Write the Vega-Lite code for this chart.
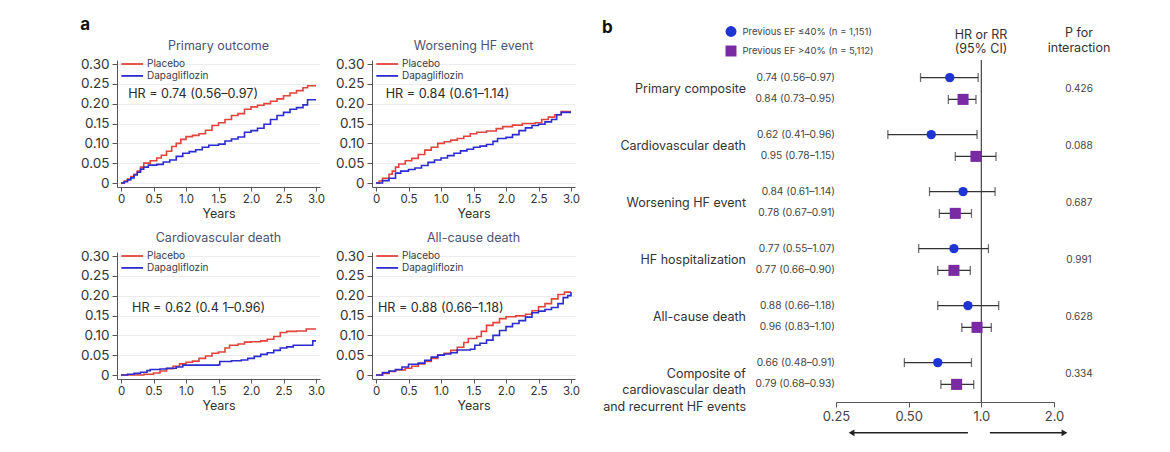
{
  "$schema": "https://vega.github.io/schema/vega-lite/v6.json",
  "background": "white",
  "padding": {"left": 80, "top": 15, "right": 5, "bottom": 0},
  "config": {
    "font": "Inter",
    "view": {"stroke": null},
    "axis": {"domainColor": "#555", "tickColor": "#555", "labelColor": "#333", "titleColor": "#333", "titleFontWeight": "normal", "labelOverlap": false},
    "title": {"fontWeight": "normal", "color": "#4b5374", "fontSize": 12.5}
  },
  "datasets": {
    "km": [
      {"p": "PO", "arm": "Placebo", "t": 0, "v": 0}, {"p": "PO", "arm": "Placebo", "t": 0.05, "v": 0.005}, {"p": "PO", "arm": "Placebo", "t": 0.1, "v": 0.01}, {"p": "PO", "arm": "Placebo", "t": 0.15, "v": 0.016}, {"p": "PO", "arm": "Placebo", "t": 0.2, "v": 0.022}, {"p": "PO", "arm": "Placebo", "t": 0.25, "v": 0.03}, {"p": "PO", "arm": "Placebo", "t": 0.3, "v": 0.04}, {"p": "PO", "arm": "Placebo", "t": 0.35, "v": 0.05}, {"p": "PO", "arm": "Placebo", "t": 0.45, "v": 0.056}, {"p": "PO", "arm": "Placebo", "t": 0.55, "v": 0.063}, {"p": "PO", "arm": "Placebo", "t": 0.62, "v": 0.07}, {"p": "PO", "arm": "Placebo", "t": 0.7, "v": 0.08}, {"p": "PO", "arm": "Placebo", "t": 0.78, "v": 0.092}, {"p": "PO", "arm": "Placebo", "t": 0.85, "v": 0.1}, {"p": "PO", "arm": "Placebo", "t": 0.92, "v": 0.11}, {"p": "PO", "arm": "Placebo", "t": 1.0, "v": 0.117}, {"p": "PO", "arm": "Placebo", "t": 1.1, "v": 0.12}, {"p": "PO", "arm": "Placebo", "t": 1.2, "v": 0.124}, {"p": "PO", "arm": "Placebo", "t": 1.3, "v": 0.133}, {"p": "PO", "arm": "Placebo", "t": 1.4, "v": 0.145}, {"p": "PO", "arm": "Placebo", "t": 1.5, "v": 0.152}, {"p": "PO", "arm": "Placebo", "t": 1.6, "v": 0.16}, {"p": "PO", "arm": "Placebo", "t": 1.7, "v": 0.17}, {"p": "PO", "arm": "Placebo", "t": 1.8, "v": 0.175}, {"p": "PO", "arm": "Placebo", "t": 1.9, "v": 0.186}, {"p": "PO", "arm": "Placebo", "t": 2.0, "v": 0.192}, {"p": "PO", "arm": "Placebo", "t": 2.1, "v": 0.196}, {"p": "PO", "arm": "Placebo", "t": 2.2, "v": 0.2}, {"p": "PO", "arm": "Placebo", "t": 2.3, "v": 0.206}, {"p": "PO", "arm": "Placebo", "t": 2.4, "v": 0.212}, {"p": "PO", "arm": "Placebo", "t": 2.5, "v": 0.22}, {"p": "PO", "arm": "Placebo", "t": 2.6, "v": 0.227}, {"p": "PO", "arm": "Placebo", "t": 2.7, "v": 0.233}, {"p": "PO", "arm": "Placebo", "t": 2.8, "v": 0.24}, {"p": "PO", "arm": "Placebo", "t": 2.87, "v": 0.245}, {"p": "PO", "arm": "Placebo", "t": 3.0, "v": 0.245},
      {"p": "PO", "arm": "Dapagliflozin", "t": 0, "v": 0}, {"p": "PO", "arm": "Dapagliflozin", "t": 0.05, "v": 0.003}, {"p": "PO", "arm": "Dapagliflozin", "t": 0.1, "v": 0.008}, {"p": "PO", "arm": "Dapagliflozin", "t": 0.15, "v": 0.013}, {"p": "PO", "arm": "Dapagliflozin", "t": 0.2, "v": 0.02}, {"p": "PO", "arm": "Dapagliflozin", "t": 0.25, "v": 0.027}, {"p": "PO", "arm": "Dapagliflozin", "t": 0.3, "v": 0.035}, {"p": "PO", "arm": "Dapagliflozin", "t": 0.35, "v": 0.04}, {"p": "PO", "arm": "Dapagliflozin", "t": 0.42, "v": 0.045}, {"p": "PO", "arm": "Dapagliflozin", "t": 0.55, "v": 0.047}, {"p": "PO", "arm": "Dapagliflozin", "t": 0.65, "v": 0.053}, {"p": "PO", "arm": "Dapagliflozin", "t": 0.75, "v": 0.058}, {"p": "PO", "arm": "Dapagliflozin", "t": 0.85, "v": 0.067}, {"p": "PO", "arm": "Dapagliflozin", "t": 0.95, "v": 0.075}, {"p": "PO", "arm": "Dapagliflozin", "t": 1.05, "v": 0.079}, {"p": "PO", "arm": "Dapagliflozin", "t": 1.15, "v": 0.084}, {"p": "PO", "arm": "Dapagliflozin", "t": 1.25, "v": 0.09}, {"p": "PO", "arm": "Dapagliflozin", "t": 1.35, "v": 0.095}, {"p": "PO", "arm": "Dapagliflozin", "t": 1.5, "v": 0.098}, {"p": "PO", "arm": "Dapagliflozin", "t": 1.6, "v": 0.106}, {"p": "PO", "arm": "Dapagliflozin", "t": 1.7, "v": 0.111}, {"p": "PO", "arm": "Dapagliflozin", "t": 1.8, "v": 0.116}, {"p": "PO", "arm": "Dapagliflozin", "t": 1.9, "v": 0.128}, {"p": "PO", "arm": "Dapagliflozin", "t": 2.0, "v": 0.132}, {"p": "PO", "arm": "Dapagliflozin", "t": 2.1, "v": 0.138}, {"p": "PO", "arm": "Dapagliflozin", "t": 2.2, "v": 0.148}, {"p": "PO", "arm": "Dapagliflozin", "t": 2.3, "v": 0.16}, {"p": "PO", "arm": "Dapagliflozin", "t": 2.4, "v": 0.17}, {"p": "PO", "arm": "Dapagliflozin", "t": 2.5, "v": 0.178}, {"p": "PO", "arm": "Dapagliflozin", "t": 2.6, "v": 0.186}, {"p": "PO", "arm": "Dapagliflozin", "t": 2.7, "v": 0.19}, {"p": "PO", "arm": "Dapagliflozin", "t": 2.8, "v": 0.197}, {"p": "PO", "arm": "Dapagliflozin", "t": 2.87, "v": 0.21}, {"p": "PO", "arm": "Dapagliflozin", "t": 3.0, "v": 0.21},
      {"p": "WH", "arm": "Placebo", "t": 0, "v": 0}, {"p": "WH", "arm": "Placebo", "t": 0.05, "v": 0.005}, {"p": "WH", "arm": "Placebo", "t": 0.1, "v": 0.012}, {"p": "WH", "arm": "Placebo", "t": 0.2, "v": 0.022}, {"p": "WH", "arm": "Placebo", "t": 0.25, "v": 0.03}, {"p": "WH", "arm": "Placebo", "t": 0.3, "v": 0.04}, {"p": "WH", "arm": "Placebo", "t": 0.35, "v": 0.048}, {"p": "WH", "arm": "Placebo", "t": 0.45, "v": 0.056}, {"p": "WH", "arm": "Placebo", "t": 0.55, "v": 0.062}, {"p": "WH", "arm": "Placebo", "t": 0.65, "v": 0.072}, {"p": "WH", "arm": "Placebo", "t": 0.75, "v": 0.083}, {"p": "WH", "arm": "Placebo", "t": 0.85, "v": 0.09}, {"p": "WH", "arm": "Placebo", "t": 0.95, "v": 0.1}, {"p": "WH", "arm": "Placebo", "t": 1.05, "v": 0.104}, {"p": "WH", "arm": "Placebo", "t": 1.15, "v": 0.108}, {"p": "WH", "arm": "Placebo", "t": 1.25, "v": 0.112}, {"p": "WH", "arm": "Placebo", "t": 1.35, "v": 0.118}, {"p": "WH", "arm": "Placebo", "t": 1.45, "v": 0.124}, {"p": "WH", "arm": "Placebo", "t": 1.55, "v": 0.128}, {"p": "WH", "arm": "Placebo", "t": 1.7, "v": 0.131}, {"p": "WH", "arm": "Placebo", "t": 1.85, "v": 0.137}, {"p": "WH", "arm": "Placebo", "t": 1.95, "v": 0.142}, {"p": "WH", "arm": "Placebo", "t": 2.1, "v": 0.146}, {"p": "WH", "arm": "Placebo", "t": 2.25, "v": 0.15}, {"p": "WH", "arm": "Placebo", "t": 2.45, "v": 0.152}, {"p": "WH", "arm": "Placebo", "t": 2.55, "v": 0.16}, {"p": "WH", "arm": "Placebo", "t": 2.65, "v": 0.166}, {"p": "WH", "arm": "Placebo", "t": 2.75, "v": 0.172}, {"p": "WH", "arm": "Placebo", "t": 2.85, "v": 0.18}, {"p": "WH", "arm": "Placebo", "t": 3.0, "v": 0.18},
      {"p": "WH", "arm": "Dapagliflozin", "t": 0, "v": 0}, {"p": "WH", "arm": "Dapagliflozin", "t": 0.1, "v": 0.006}, {"p": "WH", "arm": "Dapagliflozin", "t": 0.2, "v": 0.012}, {"p": "WH", "arm": "Dapagliflozin", "t": 0.3, "v": 0.025}, {"p": "WH", "arm": "Dapagliflozin", "t": 0.38, "v": 0.03}, {"p": "WH", "arm": "Dapagliflozin", "t": 0.5, "v": 0.034}, {"p": "WH", "arm": "Dapagliflozin", "t": 0.6, "v": 0.038}, {"p": "WH", "arm": "Dapagliflozin", "t": 0.7, "v": 0.044}, {"p": "WH", "arm": "Dapagliflozin", "t": 0.8, "v": 0.052}, {"p": "WH", "arm": "Dapagliflozin", "t": 0.9, "v": 0.058}, {"p": "WH", "arm": "Dapagliflozin", "t": 1.0, "v": 0.063}, {"p": "WH", "arm": "Dapagliflozin", "t": 1.1, "v": 0.069}, {"p": "WH", "arm": "Dapagliflozin", "t": 1.2, "v": 0.075}, {"p": "WH", "arm": "Dapagliflozin", "t": 1.3, "v": 0.081}, {"p": "WH", "arm": "Dapagliflozin", "t": 1.4, "v": 0.085}, {"p": "WH", "arm": "Dapagliflozin", "t": 1.5, "v": 0.09}, {"p": "WH", "arm": "Dapagliflozin", "t": 1.6, "v": 0.093}, {"p": "WH", "arm": "Dapagliflozin", "t": 1.7, "v": 0.097}, {"p": "WH", "arm": "Dapagliflozin", "t": 1.8, "v": 0.105}, {"p": "WH", "arm": "Dapagliflozin", "t": 1.87, "v": 0.112}, {"p": "WH", "arm": "Dapagliflozin", "t": 2.0, "v": 0.115}, {"p": "WH", "arm": "Dapagliflozin", "t": 2.1, "v": 0.122}, {"p": "WH", "arm": "Dapagliflozin", "t": 2.2, "v": 0.132}, {"p": "WH", "arm": "Dapagliflozin", "t": 2.3, "v": 0.139}, {"p": "WH", "arm": "Dapagliflozin", "t": 2.4, "v": 0.145}, {"p": "WH", "arm": "Dapagliflozin", "t": 2.5, "v": 0.148}, {"p": "WH", "arm": "Dapagliflozin", "t": 2.6, "v": 0.154}, {"p": "WH", "arm": "Dapagliflozin", "t": 2.7, "v": 0.16}, {"p": "WH", "arm": "Dapagliflozin", "t": 2.78, "v": 0.172}, {"p": "WH", "arm": "Dapagliflozin", "t": 2.85, "v": 0.178}, {"p": "WH", "arm": "Dapagliflozin", "t": 3.0, "v": 0.178},
      {"p": "CV", "arm": "Placebo", "t": 0, "v": 0}, {"p": "CV", "arm": "Placebo", "t": 0.35, "v": 0.002}, {"p": "CV", "arm": "Placebo", "t": 0.5, "v": 0.005}, {"p": "CV", "arm": "Placebo", "t": 0.6, "v": 0.01}, {"p": "CV", "arm": "Placebo", "t": 0.7, "v": 0.016}, {"p": "CV", "arm": "Placebo", "t": 0.8, "v": 0.022}, {"p": "CV", "arm": "Placebo", "t": 0.9, "v": 0.028}, {"p": "CV", "arm": "Placebo", "t": 1.0, "v": 0.032}, {"p": "CV", "arm": "Placebo", "t": 1.1, "v": 0.035}, {"p": "CV", "arm": "Placebo", "t": 1.2, "v": 0.042}, {"p": "CV", "arm": "Placebo", "t": 1.3, "v": 0.048}, {"p": "CV", "arm": "Placebo", "t": 1.4, "v": 0.055}, {"p": "CV", "arm": "Placebo", "t": 1.5, "v": 0.058}, {"p": "CV", "arm": "Placebo", "t": 1.6, "v": 0.068}, {"p": "CV", "arm": "Placebo", "t": 1.67, "v": 0.075}, {"p": "CV", "arm": "Placebo", "t": 1.8, "v": 0.078}, {"p": "CV", "arm": "Placebo", "t": 1.9, "v": 0.083}, {"p": "CV", "arm": "Placebo", "t": 2.0, "v": 0.084}, {"p": "CV", "arm": "Placebo", "t": 2.15, "v": 0.086}, {"p": "CV", "arm": "Placebo", "t": 2.25, "v": 0.09}, {"p": "CV", "arm": "Placebo", "t": 2.35, "v": 0.097}, {"p": "CV", "arm": "Placebo", "t": 2.45, "v": 0.107}, {"p": "CV", "arm": "Placebo", "t": 2.55, "v": 0.11}, {"p": "CV", "arm": "Placebo", "t": 2.7, "v": 0.111}, {"p": "CV", "arm": "Placebo", "t": 2.85, "v": 0.116}, {"p": "CV", "arm": "Placebo", "t": 3.0, "v": 0.116},
      {"p": "CV", "arm": "Dapagliflozin", "t": 0, "v": 0}, {"p": "CV", "arm": "Dapagliflozin", "t": 0.1, "v": 0.002}, {"p": "CV", "arm": "Dapagliflozin", "t": 0.2, "v": 0.004}, {"p": "CV", "arm": "Dapagliflozin", "t": 0.3, "v": 0.007}, {"p": "CV", "arm": "Dapagliflozin", "t": 0.4, "v": 0.011}, {"p": "CV", "arm": "Dapagliflozin", "t": 0.45, "v": 0.014}, {"p": "CV", "arm": "Dapagliflozin", "t": 0.6, "v": 0.015}, {"p": "CV", "arm": "Dapagliflozin", "t": 0.7, "v": 0.017}, {"p": "CV", "arm": "Dapagliflozin", "t": 0.85, "v": 0.02}, {"p": "CV", "arm": "Dapagliflozin", "t": 0.95, "v": 0.025}, {"p": "CV", "arm": "Dapagliflozin", "t": 1.5, "v": 0.026}, {"p": "CV", "arm": "Dapagliflozin", "t": 1.52, "v": 0.034}, {"p": "CV", "arm": "Dapagliflozin", "t": 1.7, "v": 0.036}, {"p": "CV", "arm": "Dapagliflozin", "t": 1.85, "v": 0.038}, {"p": "CV", "arm": "Dapagliflozin", "t": 1.95, "v": 0.042}, {"p": "CV", "arm": "Dapagliflozin", "t": 2.05, "v": 0.047}, {"p": "CV", "arm": "Dapagliflozin", "t": 2.15, "v": 0.052}, {"p": "CV", "arm": "Dapagliflozin", "t": 2.25, "v": 0.056}, {"p": "CV", "arm": "Dapagliflozin", "t": 2.35, "v": 0.062}, {"p": "CV", "arm": "Dapagliflozin", "t": 2.45, "v": 0.068}, {"p": "CV", "arm": "Dapagliflozin", "t": 2.55, "v": 0.071}, {"p": "CV", "arm": "Dapagliflozin", "t": 2.65, "v": 0.075}, {"p": "CV", "arm": "Dapagliflozin", "t": 2.93, "v": 0.075}, {"p": "CV", "arm": "Dapagliflozin", "t": 2.95, "v": 0.086}, {"p": "CV", "arm": "Dapagliflozin", "t": 3.0, "v": 0.086},
      {"p": "AC", "arm": "Placebo", "t": 0, "v": 0}, {"p": "AC", "arm": "Placebo", "t": 0.1, "v": 0.004}, {"p": "AC", "arm": "Placebo", "t": 0.2, "v": 0.009}, {"p": "AC", "arm": "Placebo", "t": 0.3, "v": 0.013}, {"p": "AC", "arm": "Placebo", "t": 0.45, "v": 0.017}, {"p": "AC", "arm": "Placebo", "t": 0.55, "v": 0.022}, {"p": "AC", "arm": "Placebo", "t": 0.65, "v": 0.028}, {"p": "AC", "arm": "Placebo", "t": 0.75, "v": 0.034}, {"p": "AC", "arm": "Placebo", "t": 0.85, "v": 0.042}, {"p": "AC", "arm": "Placebo", "t": 0.95, "v": 0.05}, {"p": "AC", "arm": "Placebo", "t": 1.05, "v": 0.055}, {"p": "AC", "arm": "Placebo", "t": 1.15, "v": 0.062}, {"p": "AC", "arm": "Placebo", "t": 1.25, "v": 0.07}, {"p": "AC", "arm": "Placebo", "t": 1.35, "v": 0.082}, {"p": "AC", "arm": "Placebo", "t": 1.42, "v": 0.092}, {"p": "AC", "arm": "Placebo", "t": 1.55, "v": 0.097}, {"p": "AC", "arm": "Placebo", "t": 1.62, "v": 0.11}, {"p": "AC", "arm": "Placebo", "t": 1.7, "v": 0.125}, {"p": "AC", "arm": "Placebo", "t": 1.8, "v": 0.132}, {"p": "AC", "arm": "Placebo", "t": 1.9, "v": 0.142}, {"p": "AC", "arm": "Placebo", "t": 2.0, "v": 0.147}, {"p": "AC", "arm": "Placebo", "t": 2.15, "v": 0.149}, {"p": "AC", "arm": "Placebo", "t": 2.3, "v": 0.153}, {"p": "AC", "arm": "Placebo", "t": 2.4, "v": 0.162}, {"p": "AC", "arm": "Placebo", "t": 2.5, "v": 0.172}, {"p": "AC", "arm": "Placebo", "t": 2.6, "v": 0.18}, {"p": "AC", "arm": "Placebo", "t": 2.7, "v": 0.192}, {"p": "AC", "arm": "Placebo", "t": 2.8, "v": 0.203}, {"p": "AC", "arm": "Placebo", "t": 2.9, "v": 0.209}, {"p": "AC", "arm": "Placebo", "t": 3.0, "v": 0.209},
      {"p": "AC", "arm": "Dapagliflozin", "t": 0, "v": 0}, {"p": "AC", "arm": "Dapagliflozin", "t": 0.1, "v": 0.006}, {"p": "AC", "arm": "Dapagliflozin", "t": 0.2, "v": 0.01}, {"p": "AC", "arm": "Dapagliflozin", "t": 0.3, "v": 0.014}, {"p": "AC", "arm": "Dapagliflozin", "t": 0.4, "v": 0.02}, {"p": "AC", "arm": "Dapagliflozin", "t": 0.5, "v": 0.027}, {"p": "AC", "arm": "Dapagliflozin", "t": 0.65, "v": 0.03}, {"p": "AC", "arm": "Dapagliflozin", "t": 0.75, "v": 0.037}, {"p": "AC", "arm": "Dapagliflozin", "t": 0.85, "v": 0.045}, {"p": "AC", "arm": "Dapagliflozin", "t": 0.95, "v": 0.05}, {"p": "AC", "arm": "Dapagliflozin", "t": 1.05, "v": 0.053}, {"p": "AC", "arm": "Dapagliflozin", "t": 1.15, "v": 0.056}, {"p": "AC", "arm": "Dapagliflozin", "t": 1.25, "v": 0.063}, {"p": "AC", "arm": "Dapagliflozin", "t": 1.45, "v": 0.065}, {"p": "AC", "arm": "Dapagliflozin", "t": 1.52, "v": 0.075}, {"p": "AC", "arm": "Dapagliflozin", "t": 1.6, "v": 0.08}, {"p": "AC", "arm": "Dapagliflozin", "t": 1.7, "v": 0.088}, {"p": "AC", "arm": "Dapagliflozin", "t": 1.8, "v": 0.1}, {"p": "AC", "arm": "Dapagliflozin", "t": 1.9, "v": 0.112}, {"p": "AC", "arm": "Dapagliflozin", "t": 2.0, "v": 0.122}, {"p": "AC", "arm": "Dapagliflozin", "t": 2.1, "v": 0.13}, {"p": "AC", "arm": "Dapagliflozin", "t": 2.2, "v": 0.137}, {"p": "AC", "arm": "Dapagliflozin", "t": 2.3, "v": 0.146}, {"p": "AC", "arm": "Dapagliflozin", "t": 2.4, "v": 0.157}, {"p": "AC", "arm": "Dapagliflozin", "t": 2.5, "v": 0.161}, {"p": "AC", "arm": "Dapagliflozin", "t": 2.6, "v": 0.165}, {"p": "AC", "arm": "Dapagliflozin", "t": 2.7, "v": 0.17}, {"p": "AC", "arm": "Dapagliflozin", "t": 2.8, "v": 0.18}, {"p": "AC", "arm": "Dapagliflozin", "t": 2.88, "v": 0.195}, {"p": "AC", "arm": "Dapagliflozin", "t": 2.95, "v": 0.2}, {"p": "AC", "arm": "Dapagliflozin", "t": 3.0, "v": 0.209}
    ],
    "forest": [
      {"outcome": "Primary composite", "ef": "Previous EF ≤40% (n = 1,151)", "hr": 0.74, "lo": 0.56, "hi": 0.97, "ci": "0.74 (0.56–0.97)"},
      {"outcome": "Primary composite", "ef": "Previous EF >40% (n = 5,112)", "hr": 0.84, "lo": 0.73, "hi": 0.95, "ci": "0.84 (0.73–0.95)"},
      {"outcome": "Cardiovascular death", "ef": "Previous EF ≤40% (n = 1,151)", "hr": 0.62, "lo": 0.41, "hi": 0.96, "ci": "0.62 (0.41–0.96)"},
      {"outcome": "Cardiovascular death", "ef": "Previous EF >40% (n = 5,112)", "hr": 0.95, "lo": 0.78, "hi": 1.15, "ci": "0.95 (0.78–1.15)"},
      {"outcome": "Worsening HF event", "ef": "Previous EF ≤40% (n = 1,151)", "hr": 0.84, "lo": 0.61, "hi": 1.14, "ci": "0.84 (0.61–1.14)"},
      {"outcome": "Worsening HF event", "ef": "Previous EF >40% (n = 5,112)", "hr": 0.78, "lo": 0.67, "hi": 0.91, "ci": "0.78 (0.67–0.91)"},
      {"outcome": "HF hospitalization", "ef": "Previous EF ≤40% (n = 1,151)", "hr": 0.77, "lo": 0.55, "hi": 1.07, "ci": "0.77 (0.55–1.07)"},
      {"outcome": "HF hospitalization", "ef": "Previous EF >40% (n = 5,112)", "hr": 0.77, "lo": 0.66, "hi": 0.90, "ci": "0.77 (0.66–0.90)"},
      {"outcome": "All-cause death", "ef": "Previous EF ≤40% (n = 1,151)", "hr": 0.88, "lo": 0.66, "hi": 1.18, "ci": "0.88 (0.66–1.18)"},
      {"outcome": "All-cause death", "ef": "Previous EF >40% (n = 5,112)", "hr": 0.96, "lo": 0.83, "hi": 1.10, "ci": "0.96 (0.83–1.10)"},
      {"outcome": "Composite of\ncardiovascular death\nand recurrent HF events", "ef": "Previous EF ≤40% (n = 1,151)", "hr": 0.66, "lo": 0.48, "hi": 0.91, "ci": "0.66 (0.48–0.91)"},
      {"outcome": "Composite of\ncardiovascular death\nand recurrent HF events", "ef": "Previous EF >40% (n = 5,112)", "hr": 0.79, "lo": 0.68, "hi": 0.93, "ci": "0.79 (0.68–0.93)"}
    ],
    "groups": [
      {"outcome": "Primary composite", "p": 0.426},
      {"outcome": "Cardiovascular death", "p": 0.088},
      {"outcome": "Worsening HF event", "p": 0.687},
      {"outcome": "HF hospitalization", "p": 0.991},
      {"outcome": "All-cause death", "p": 0.628},
      {"outcome": "Composite of\ncardiovascular death\nand recurrent HF events", "p": 0.334}
    ]
  },
  "spacing": 22,
  "hconcat": [
    {
      "title": {"text": "a", "anchor": "start", "fontSize": 17, "fontWeight": "bold", "color": "#111", "offset": 6},
      "columns": 2,
      "spacing": {"column": 52, "row": 65},
      "bounds": "flush",
      "concat": [
        {
          "width": 203, "height": 127,
          "title": {"text": "Primary outcome", "frame": "group", "offset": 4.5},
          "encoding": {
            "x": {"type": "quantitative", "scale": {"domain": [0, 3], "nice": false, "padding": 4},
                  "axis": {"values": [0, 0.5, 1, 1.5, 2, 2.5, 3], "tickCount": 7, "labelExpr": "datum.value === 0 ? '0' : format(datum.value, '.1f')", "labelOverlap": false, "title": "Years", "titleFontSize": 12.5, "labelFontSize": 11.5, "tickSize": 4, "labelPadding": 2, "titlePadding": 3, "grid": false, "labelFlush": false}},
            "y": {"type": "quantitative", "scale": {"domain": [0, 0.3], "nice": false, "zero": false, "padding": 4},
                  "axis": {"values": [0, 0.05, 0.1, 0.15, 0.2, 0.25, 0.3], "tickCount": 7, "labelExpr": "datum.value === 0 ? '0' : format(datum.value, '.2f')", "labelOverlap": false, "title": null, "labelFontSize": 13.5, "tickSize": 5, "labelPadding": 3, "grid": true, "gridColor": "#ececec"}}
          },
          "layer": [
            {
              "data": {"name": "km"},
              "transform": [{"filter": "datum.p === 'PO'"}],
              "mark": {"type": "line", "interpolate": "step-after", "strokeWidth": 1.6},
              "encoding": {
                "x": {"field": "t"},
                "y": {"field": "v"},
                "stroke": {"field": "arm", "type": "nominal", "scale": {"domain": ["Placebo", "Dapagliflozin"], "range": ["#e2433b", "#2b2bcf"]}, "legend": null}
              }
            },
            {"data": {"values": [{}]}, "mark": {"type": "rule", "color": "#e2433b", "strokeWidth": 1.8}, "encoding": {"x": {"datum": 0.005}, "x2": {"datum": 0.34}, "y": {"datum": 0.3}}},
            {"data": {"values": [{}]}, "mark": {"type": "rule", "color": "#2b2bcf", "strokeWidth": 1.8}, "encoding": {"x": {"datum": 0.005}, "x2": {"datum": 0.34}, "y": {"datum": 0.27}}},
            {"data": {"values": [{}]}, "mark": {"type": "text", "align": "left", "baseline": "middle", "fontSize": 10, "color": "#3a3a4c"}, "encoding": {"x": {"datum": 0.4}, "y": {"datum": 0.3}, "text": {"value": "Placebo"}}},
            {"data": {"values": [{}]}, "mark": {"type": "text", "align": "left", "baseline": "middle", "fontSize": 10, "color": "#3a3a4c"}, "encoding": {"x": {"datum": 0.4}, "y": {"datum": 0.27}, "text": {"value": "Dapagliflozin"}}},
            {
              "data": {"values": [{}]},
              "mark": {"type": "text", "align": "left", "baseline": "middle", "fontSize": 12.6, "color": "#2a2a2a"},
              "encoding": {"x": {"datum": 0.11}, "y": {"datum": 0.224}, "text": {"value": "HR = 0.74 (0.56–0.97)"}}
            }
          ]
        },
        {
          "width": 203, "height": 127,
          "title": {"text": "Worsening HF event", "frame": "group", "offset": 4.5},
          "encoding": {
            "x": {"type": "quantitative", "scale": {"domain": [0, 3], "nice": false, "padding": 4},
                  "axis": {"values": [0, 0.5, 1, 1.5, 2, 2.5, 3], "tickCount": 7, "labelExpr": "datum.value === 0 ? '0' : format(datum.value, '.1f')", "labelOverlap": false, "title": "Years", "titleFontSize": 12.5, "labelFontSize": 11.5, "tickSize": 4, "labelPadding": 2, "titlePadding": 3, "grid": false, "labelFlush": false}},
            "y": {"type": "quantitative", "scale": {"domain": [0, 0.3], "nice": false, "zero": false, "padding": 4},
                  "axis": {"values": [0, 0.05, 0.1, 0.15, 0.2, 0.25, 0.3], "tickCount": 7, "labelExpr": "datum.value === 0 ? '0' : format(datum.value, '.2f')", "labelOverlap": false, "title": null, "labelFontSize": 13.5, "tickSize": 5, "labelPadding": 3, "grid": true, "gridColor": "#ececec"}}
          },
          "layer": [
            {
              "data": {"name": "km"},
              "transform": [{"filter": "datum.p === 'WH'"}],
              "mark": {"type": "line", "interpolate": "step-after", "strokeWidth": 1.6},
              "encoding": {
                "x": {"field": "t"},
                "y": {"field": "v"},
                "stroke": {"field": "arm", "type": "nominal", "scale": {"domain": ["Placebo", "Dapagliflozin"], "range": ["#e2433b", "#2b2bcf"]}, "legend": null}
              }
            },
            {"data": {"values": [{}]}, "mark": {"type": "rule", "color": "#e2433b", "strokeWidth": 1.8}, "encoding": {"x": {"datum": 0.005}, "x2": {"datum": 0.34}, "y": {"datum": 0.3}}},
            {"data": {"values": [{}]}, "mark": {"type": "rule", "color": "#2b2bcf", "strokeWidth": 1.8}, "encoding": {"x": {"datum": 0.005}, "x2": {"datum": 0.34}, "y": {"datum": 0.27}}},
            {"data": {"values": [{}]}, "mark": {"type": "text", "align": "left", "baseline": "middle", "fontSize": 10, "color": "#3a3a4c"}, "encoding": {"x": {"datum": 0.4}, "y": {"datum": 0.3}, "text": {"value": "Placebo"}}},
            {"data": {"values": [{}]}, "mark": {"type": "text", "align": "left", "baseline": "middle", "fontSize": 10, "color": "#3a3a4c"}, "encoding": {"x": {"datum": 0.4}, "y": {"datum": 0.27}, "text": {"value": "Dapagliflozin"}}},
            {
              "data": {"values": [{}]},
              "mark": {"type": "text", "align": "left", "baseline": "middle", "fontSize": 12.6, "color": "#2a2a2a"},
              "encoding": {"x": {"datum": 0.15}, "y": {"datum": 0.224}, "text": {"value": "HR = 0.84 (0.61–1.14)"}}
            }
          ]
        },
        {
          "width": 203, "height": 127,
          "title": {"text": "Cardiovascular death", "frame": "group", "offset": 4.5},
          "encoding": {
            "x": {"type": "quantitative", "scale": {"domain": [0, 3], "nice": false, "padding": 4},
                  "axis": {"values": [0, 0.5, 1, 1.5, 2, 2.5, 3], "tickCount": 7, "labelExpr": "datum.value === 0 ? '0' : format(datum.value, '.1f')", "labelOverlap": false, "title": "Years", "titleFontSize": 12.5, "labelFontSize": 11.5, "tickSize": 4, "labelPadding": 2, "titlePadding": 3, "grid": false, "labelFlush": false}},
            "y": {"type": "quantitative", "scale": {"domain": [0, 0.3], "nice": false, "zero": false, "padding": 4},
                  "axis": {"values": [0, 0.05, 0.1, 0.15, 0.2, 0.25, 0.3], "tickCount": 7, "labelExpr": "datum.value === 0 ? '0' : format(datum.value, '.2f')", "labelOverlap": false, "title": null, "labelFontSize": 13.5, "tickSize": 5, "labelPadding": 3, "grid": true, "gridColor": "#ececec"}}
          },
          "layer": [
            {
              "data": {"name": "km"},
              "transform": [{"filter": "datum.p === 'CV'"}],
              "mark": {"type": "line", "interpolate": "step-after", "strokeWidth": 1.6},
              "encoding": {
                "x": {"field": "t"},
                "y": {"field": "v"},
                "stroke": {"field": "arm", "type": "nominal", "scale": {"domain": ["Placebo", "Dapagliflozin"], "range": ["#e2433b", "#2b2bcf"]}, "legend": null}
              }
            },
            {"data": {"values": [{}]}, "mark": {"type": "rule", "color": "#e2433b", "strokeWidth": 1.8}, "encoding": {"x": {"datum": 0.005}, "x2": {"datum": 0.34}, "y": {"datum": 0.3}}},
            {"data": {"values": [{}]}, "mark": {"type": "rule", "color": "#2b2bcf", "strokeWidth": 1.8}, "encoding": {"x": {"datum": 0.005}, "x2": {"datum": 0.34}, "y": {"datum": 0.27}}},
            {"data": {"values": [{}]}, "mark": {"type": "text", "align": "left", "baseline": "middle", "fontSize": 10, "color": "#3a3a4c"}, "encoding": {"x": {"datum": 0.4}, "y": {"datum": 0.3}, "text": {"value": "Placebo"}}},
            {"data": {"values": [{}]}, "mark": {"type": "text", "align": "left", "baseline": "middle", "fontSize": 10, "color": "#3a3a4c"}, "encoding": {"x": {"datum": 0.4}, "y": {"datum": 0.27}, "text": {"value": "Dapagliflozin"}}},
            {
              "data": {"values": [{}]},
              "mark": {"type": "text", "align": "left", "baseline": "middle", "fontSize": 12.6, "color": "#2a2a2a"},
              "encoding": {"x": {"datum": 0.17}, "y": {"datum": 0.17}, "text": {"value": "HR = 0.62 (0.4 1–0.96)"}}
            }
          ]
        },
        {
          "width": 203, "height": 127,
          "title": {"text": "All-cause death", "frame": "group", "offset": 4.5},
          "encoding": {
            "x": {"type": "quantitative", "scale": {"domain": [0, 3], "nice": false, "padding": 4},
                  "axis": {"values": [0, 0.5, 1, 1.5, 2, 2.5, 3], "tickCount": 7, "labelExpr": "datum.value === 0 ? '0' : format(datum.value, '.1f')", "labelOverlap": false, "title": "Years", "titleFontSize": 12.5, "labelFontSize": 11.5, "tickSize": 4, "labelPadding": 2, "titlePadding": 3, "grid": false, "labelFlush": false}},
            "y": {"type": "quantitative", "scale": {"domain": [0, 0.3], "nice": false, "zero": false, "padding": 4},
                  "axis": {"values": [0, 0.05, 0.1, 0.15, 0.2, 0.25, 0.3], "tickCount": 7, "labelExpr": "datum.value === 0 ? '0' : format(datum.value, '.2f')", "labelOverlap": false, "title": null, "labelFontSize": 13.5, "tickSize": 5, "labelPadding": 3, "grid": true, "gridColor": "#ececec"}}
          },
          "layer": [
            {
              "data": {"name": "km"},
              "transform": [{"filter": "datum.p === 'AC'"}],
              "mark": {"type": "line", "interpolate": "step-after", "strokeWidth": 1.6},
              "encoding": {
                "x": {"field": "t"},
                "y": {"field": "v"},
                "stroke": {"field": "arm", "type": "nominal", "scale": {"domain": ["Placebo", "Dapagliflozin"], "range": ["#e2433b", "#2b2bcf"]}, "legend": null}
              }
            },
            {"data": {"values": [{}]}, "mark": {"type": "rule", "color": "#e2433b", "strokeWidth": 1.8}, "encoding": {"x": {"datum": 0.005}, "x2": {"datum": 0.34}, "y": {"datum": 0.3}}},
            {"data": {"values": [{}]}, "mark": {"type": "rule", "color": "#2b2bcf", "strokeWidth": 1.8}, "encoding": {"x": {"datum": 0.005}, "x2": {"datum": 0.34}, "y": {"datum": 0.27}}},
            {"data": {"values": [{}]}, "mark": {"type": "text", "align": "left", "baseline": "middle", "fontSize": 10, "color": "#3a3a4c"}, "encoding": {"x": {"datum": 0.4}, "y": {"datum": 0.3}, "text": {"value": "Placebo"}}},
            {"data": {"values": [{}]}, "mark": {"type": "text", "align": "left", "baseline": "middle", "fontSize": 10, "color": "#3a3a4c"}, "encoding": {"x": {"datum": 0.4}, "y": {"datum": 0.27}, "text": {"value": "Dapagliflozin"}}},
            {
              "data": {"values": [{}]},
              "mark": {"type": "text", "align": "left", "baseline": "middle", "fontSize": 12.6, "color": "#2a2a2a"},
              "encoding": {"x": {"datum": 0.03}, "y": {"datum": 0.17}, "text": {"value": "HR = 0.88 (0.66–1.18)"}}
            }
          ]
        }
      ]
    },
    {
      "spacing": 0,
      "bounds": "flush",
      "resolve": {"legend": {"fill": "independent", "shape": "independent"}},
      "hconcat": [
        {
          "width": 144, "height": 342,
          "title": {"text": "b", "anchor": "start", "fontSize": 17, "fontWeight": "bold", "color": "#111", "offset": 23},
          "data": {"name": "groups"},
          "mark": {"type": "text", "align": "right", "baseline": "middle", "fontSize": 12.5, "lineBreak": "\n", "lineHeight": 16.5, "color": "#333"},
          "encoding": {
            "y": {"field": "outcome", "type": "nominal", "sort": null, "axis": null, "scale": {"type": "band", "paddingInner": 0, "paddingOuter": 0}},
            "x": {"datum": 1, "type": "quantitative", "scale": {"domain": [0, 1]}, "axis": null},
            "text": {"field": "outcome"}
          }
        },
        {
          "width": 90, "height": 342,
          "title": {"text": ["HR or RR", "(95% CI)"], "frame": "group", "dx": 190, "offset": 5, "color": "#333", "fontSize": 12.5, "lineHeight": 13.5},
          "data": {"name": "forest"},
          "mark": {"type": "text", "align": "right", "baseline": "middle", "fontSize": 10.2, "color": "#444", "dx": -1},
          "encoding": {
            "y": {"field": "outcome", "type": "nominal", "sort": null, "axis": null, "scale": {"type": "band", "paddingInner": 0, "paddingOuter": 0}},
            "yOffset": {"field": "ef", "type": "nominal", "sort": null, "scale": {"type": "band", "paddingInner": 0, "paddingOuter": 0.31}},
            "x": {"datum": 1, "type": "quantitative", "scale": {"domain": [0, 1]}, "axis": null},
            "text": {"field": "ci"}
          }
        },
        {
          "width": 218, "height": 342,
          "resolve": {"scale": {"y": "independent"}},
          "layer": [
            {
              "data": {"values": [{}]},
              "mark": {"type": "rule", "color": "#444", "strokeWidth": 1.2},
              "encoding": {"x": {"datum": 1, "type": "quantitative", "scale": {"type": "log", "domain": [0.25, 2], "nice": false}}}
            },
            {
              "data": {"name": "forest"},
              "encoding": {
                "y": {"field": "outcome", "type": "nominal", "sort": null, "axis": null, "scale": {"type": "band", "paddingInner": 0, "paddingOuter": 0}},
                "yOffset": {"field": "ef", "type": "nominal", "sort": null, "scale": {"type": "band", "paddingInner": 0, "paddingOuter": 0.31}}
              },
              "layer": [
                {
                  "mark": {"type": "rule", "color": "#333", "strokeWidth": 1.3},
                  "encoding": {
                    "x": {"field": "lo", "type": "quantitative",
                          "axis": {"values": [0.25, 0.5, 1, 2], "labelExpr": "datum.value === 0.25 ? '0.25' : datum.value === 0.5 ? '0.50' : format(datum.value, '.1f')", "labelOverlap": false, "title": null, "labelFontSize": 13, "tickSize": 5, "labelPadding": 3, "grid": false, "labelFlush": false, "labelColor": "#444"}},
                    "x2": {"field": "hi"}
                  }
                },
                {
                  "mark": {"type": "tick", "color": "#333", "thickness": 1.3, "size": 9},
                  "encoding": {"x": {"field": "lo", "type": "quantitative"}}
                },
                {
                  "mark": {"type": "tick", "color": "#333", "thickness": 1.3, "size": 9},
                  "encoding": {"x": {"field": "hi", "type": "quantitative"}}
                },
                {
                  "mark": {"type": "point", "filled": true, "opacity": 1, "strokeWidth": 0},
                  "encoding": {
                    "x": {"field": "hr", "type": "quantitative"},
                    "fill": {"field": "ef", "type": "nominal",
                             "scale": {"domain": ["Previous EF ≤40% (n = 1,151)", "Previous EF >40% (n = 5,112)"], "range": ["#1f35d3", "#7a2aa2"]},
                             "legend": {"orient": "none", "legendX": -110.5, "legendY": -34, "title": null, "labelFontSize": 9.5, "labelColor": "#444", "labelOffset": 6, "rowPadding": 8.5, "padding": 0, "symbolSize": 120, "symbolStrokeWidth": 0}},
                    "shape": {"field": "ef", "type": "nominal",
                              "scale": {"domain": ["Previous EF ≤40% (n = 1,151)", "Previous EF >40% (n = 5,112)"], "range": ["circle", "square"]},
                              "legend": {"orient": "none", "legendX": -110.5, "legendY": -34, "title": null, "labelFontSize": 9.5, "labelColor": "#444", "labelOffset": 6, "rowPadding": 8.5, "padding": 0, "symbolSize": 120, "symbolStrokeWidth": 0}},
                    "size": {"field": "ef", "type": "ordinal",
                             "scale": {"domain": ["Previous EF ≤40% (n = 1,151)", "Previous EF >40% (n = 5,112)"], "range": [88, 122]}, "legend": null}
                  }
                }
              ]
            },
            {
              "data": {"values": [{}]},
              "encoding": {"y": {"datum": -0.09, "type": "quantitative", "scale": {"domain": [0, 1]}, "axis": null}},
              "layer": [
                {"mark": {"type": "rule", "color": "#222", "strokeWidth": 1.6}, "encoding": {"x": {"datum": 0.88, "type": "quantitative"}, "x2": {"datum": 0.29}}},
                {"mark": {"type": "point", "shape": "triangle-left", "filled": true, "color": "#222", "size": 45, "opacity": 1}, "encoding": {"x": {"datum": 0.29, "type": "quantitative"}}},
                {"mark": {"type": "rule", "color": "#222", "strokeWidth": 1.6}, "encoding": {"x": {"datum": 1.085, "type": "quantitative"}, "x2": {"datum": 2.21}}},
                {"mark": {"type": "point", "shape": "triangle-right", "filled": true, "color": "#222", "size": 45, "opacity": 1}, "encoding": {"x": {"datum": 2.21, "type": "quantitative"}}},
                {"mark": {"type": "text", "align": "left", "baseline": "top", "fontSize": 12.8, "color": "#333"}, "encoding": {"x": {"datum": 0.283, "type": "quantitative"}, "y": {"datum": -0.146, "type": "quantitative"}, "text": {"value": "Favors dapagliflozin"}}},
                {"mark": {"type": "text", "align": "left", "baseline": "top", "fontSize": 12.8, "color": "#333"}, "encoding": {"x": {"datum": 1.085, "type": "quantitative"}, "y": {"datum": -0.146, "type": "quantitative"}, "text": {"value": "Favors placebo"}}}
              ]
            }
          ]
        },
        {
          "width": 50, "height": 342,
          "title": {"text": ["P for", "interaction"], "frame": "group", "offset": 6, "color": "#333", "fontSize": 12.5, "lineHeight": 15},
          "data": {"name": "groups"},
          "mark": {"type": "text", "align": "center", "baseline": "middle", "fontSize": 10, "color": "#444"},
          "encoding": {
            "y": {"field": "outcome", "type": "nominal", "sort": null, "axis": null, "scale": {"type": "band", "paddingInner": 0, "paddingOuter": 0}},
            "x": {"datum": 0.5, "type": "quantitative", "scale": {"domain": [0, 1]}, "axis": null},
            "text": {"field": "p", "type": "quantitative", "format": ".3f"}
          }
        }
      ]
    }
  ]
}
